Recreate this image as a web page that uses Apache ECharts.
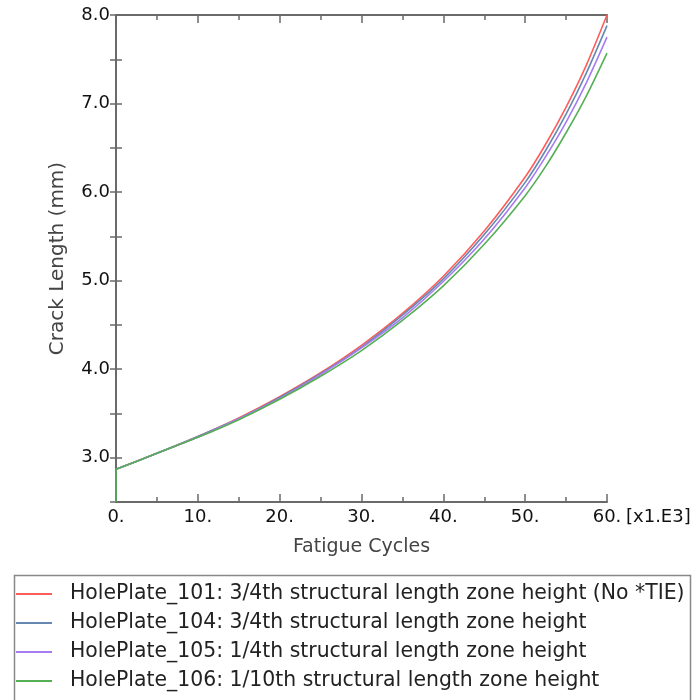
<!DOCTYPE html>
<html><head><meta charset="utf-8">
<script src="https://cdn.jsdelivr.net/npm/echarts@6/dist/echarts.min.js"></script>
<style>html,body{margin:0;padding:0;background:#fff}#c{width:700px;height:700px}</style>
</head><body><div id="c"></div>
<script>
const cycles = [0, 5, 10, 15, 20, 25, 30, 35, 40, 45, 50, 52.5, 55, 57.5, 60];
const hp101 = [2.87, 3.05, 3.24, 3.45, 3.69, 3.96, 4.27, 4.63, 5.05, 5.56, 6.17, 6.54, 6.96, 7.44, 8.0];
const hp104 = [2.87, 3.05, 3.24, 3.44, 3.68, 3.95, 4.25, 4.61, 5.02, 5.52, 6.11, 6.47, 6.88, 7.35, 7.88];
const hp105 = [2.87, 3.05, 3.23, 3.44, 3.67, 3.94, 4.24, 4.58, 4.99, 5.47, 6.05, 6.40, 6.79, 7.24, 7.75];
const hp106 = [2.87, 3.05, 3.23, 3.43, 3.66, 3.92, 4.21, 4.55, 4.94, 5.41, 5.96, 6.29, 6.67, 7.09, 7.57];
// initial jump at zero cycles (visible for the last series, drawn on top)
const startCycles = [0, 0];
const startLength = [2.5, 2.87];
const names = [
  'HolePlate_101: 3/4th structural length zone height (No *TIE)',
  'HolePlate_104: 3/4th structural length zone height',
  'HolePlate_105: 1/4th structural length zone height',
  'HolePlate_106: 1/10th structural length zone height'
];
const colors = ['#ff5c5c', '#6688b0', '#a77cf0', '#55b055'];
const xUnit = '[x1.E3]';

const chart = echarts.init(document.getElementById('c'));
const F = 'DejaVu Sans, Verdana, sans-serif';
const axisLine = {show: true, lineStyle: {color: '#6a6a6a', width: 2}};
const tickStyle = {color: '#6a6a6a', width: 1.5};
const xTick = {show: true, inside: true, length: 8, lineStyle: tickStyle};
const xMinor = {show: true, splitNumber: 2, length: 5, lineStyle: tickStyle};
const yTick = {show: true, inside: true, length: 6, lineStyle: tickStyle};
const allData = [hp101, hp104, hp105, hp106];
const series = allData.map((arr, i) => ({
  name: names[i], type: 'line', smooth: 0.25, showSymbol: false, symbol: 'none',
  data: cycles.map((c, j) => [c, arr[j]]),
  lineStyle: {color: colors[i], width: 1.6}, itemStyle: {color: colors[i]},
  z: 2 + i, animation: false
}));
series.push({
  name: names[3], type: 'line', showSymbol: false, symbol: 'none',
  data: startCycles.map((c, j) => [c, startLength[j]]),
  lineStyle: {color: colors[3], width: 1.6}, z: 6, animation: false
});
chart.setOption({
  animation: false,
  grid: {left: 116, right: 93, top: 15, bottom: 198},
  xAxis: [
    {type: 'value', min: 0, max: 60, interval: 10, position: 'bottom',
     axisLine, axisTick: xTick, minorTick: xMinor, splitLine: {show: false},
     axisLabel: {color: '#111', fontFamily: F, fontSize: 18, margin: 6,
       formatter: v => v + '.'},
     name: 'Fatigue Cycles', nameLocation: 'middle', nameGap: 36,
     nameTextStyle: {color: '#444', fontFamily: F, fontSize: 19}},
    {type: 'value', min: 0, max: 60, interval: 10, position: 'top',
     axisLine, axisTick: xTick, minorTick: xMinor, splitLine: {show: false}, axisLabel: {show: false}}
  ],
  yAxis: [
    {type: 'value', min: 2.5, max: 8, interval: 0.5, position: 'left',
     axisLine, axisTick: yTick, splitLine: {show: false},
     axisLabel: {color: '#111', fontFamily: F, fontSize: 18, margin: 6,
       formatter: v => (Math.abs(v - Math.round(v)) < 1e-6 ? v.toFixed(1) : '')},
     name: 'Crack Length (mm)', nameLocation: 'middle', nameGap: 48, nameRotate: 90,
     nameTextStyle: {color: '#444', fontFamily: F, fontSize: 20}},
    {type: 'value', min: 2.5, max: 8, interval: 0.5, position: 'right',
     axisLine, axisTick: yTick, splitLine: {show: false}, axisLabel: {show: false}}
  ],
  legend: {
    orient: 'vertical', left: 11, top: 578, itemGap: 7,
    itemWidth: 36, itemHeight: 2, icon: 'rect',
    data: names.map((n, i) => ({name: n, itemStyle: {color: colors[i]}})),
    textStyle: {color: '#222', fontFamily: F, fontSize: 20.4, lineHeight: 22, padding: [0, 0, 0, 13]},
    selectedMode: false
  },
  graphic: [
    {type: 'rect', left: 12, top: 573, shape: {width: 676, height: 140},
     style: {fill: 'none', stroke: '#888', lineWidth: 1.5}, silent: true},
    {type: 'text', left: 626, top: 508,
     style: {text: xUnit, fill: '#111', font: '18px ' + F}}
  ],
  series
});
</script></body></html>
